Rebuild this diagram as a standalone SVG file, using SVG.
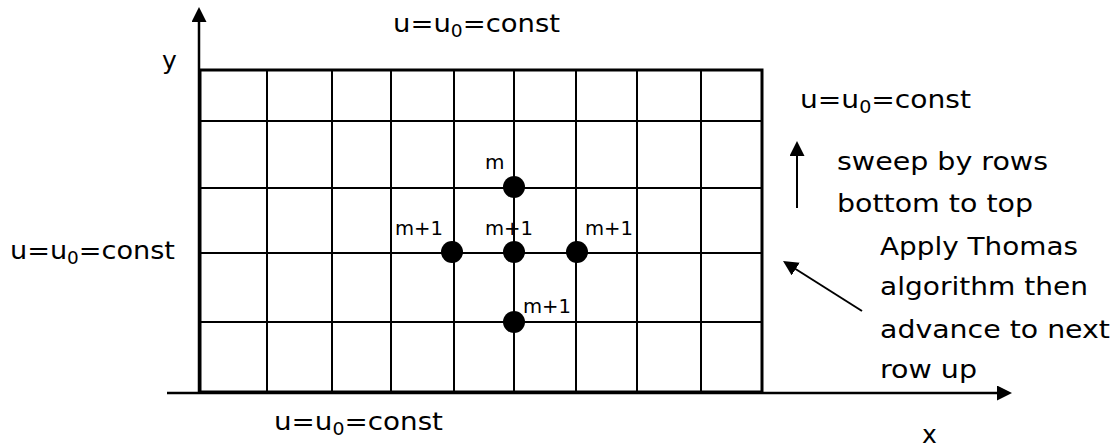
<svg xmlns="http://www.w3.org/2000/svg" width="1119" height="448" viewBox="0 0 1119 448">
<style>
 text{font-family:"DejaVu Sans",Verdana,sans-serif;fill:#000}
 .big{font-size:25px}
 .lbl{font-size:20px}
 .sub{font-size:17px}
 .grid line{stroke:#000;stroke-width:2}
 .frame{fill:none;stroke:#000;stroke-width:3}
 .ax{stroke:#000;stroke-width:2.5;fill:none}
 .thin{stroke:#000;stroke-width:2;fill:none}
 .node{fill:#000}
</style>
<defs>
 <marker id="ah" markerUnits="userSpaceOnUse" markerWidth="16" markerHeight="16" refX="2" refY="7.5" orient="auto">
  <path d="M0,0 L15,7.5 L0,15 z" fill="#000"/>
 </marker>
</defs>
<rect width="1119" height="448" fill="#fff"/>
<g id="grid" class="grid">
 <line x1="267" y1="70" x2="267" y2="392"/>
 <line x1="332" y1="70" x2="332" y2="392"/>
 <line x1="391" y1="70" x2="391" y2="392"/>
 <line x1="454" y1="70" x2="454" y2="392"/>
 <line x1="514" y1="70" x2="514" y2="392"/>
 <line x1="576" y1="70" x2="576" y2="392"/>
 <line x1="637" y1="70" x2="637" y2="392"/>
 <line x1="701" y1="70" x2="701" y2="392"/>
 <line x1="200" y1="121" x2="762" y2="121"/>
 <line x1="200" y1="188" x2="762" y2="188"/>
 <line x1="200" y1="253" x2="762" y2="253"/>
 <line x1="200" y1="322" x2="762" y2="322"/>
 <rect class="frame" x="200" y="70" width="562" height="322"/>
</g>
<g id="connectors">
 <line class="ax" x1="199" y1="393" x2="199" y2="20" marker-end="url(#ah)"/>
 <line class="ax" x1="167" y1="393" x2="999" y2="393" marker-end="url(#ah)"/>
 <line class="thin" x1="797" y1="208" x2="797" y2="154" marker-end="url(#ah)"/>
 <line class="thin" x1="862" y1="311" x2="794" y2="268" marker-end="url(#ah)"/>
</g>
<g id="node-m-top">
 <circle class="node" cx="514" cy="187" r="11"/>
 <text class="lbl" x="485" y="169">m</text>
</g>
<g id="node-left">
 <circle class="node" cx="452" cy="252" r="11"/>
 <text class="lbl" x="395" y="235" textLength="48" lengthAdjust="spacingAndGlyphs">m+1</text>
</g>
<g id="node-center">
 <circle class="node" cx="514" cy="252" r="11"/>
 <text class="lbl" x="485" y="235" textLength="48" lengthAdjust="spacingAndGlyphs">m+1</text>
</g>
<g id="node-right">
 <circle class="node" cx="577" cy="252" r="11"/>
 <text class="lbl" x="585" y="235" textLength="48" lengthAdjust="spacingAndGlyphs">m+1</text>
</g>
<g id="node-bottom">
 <circle class="node" cx="514" cy="322" r="11"/>
 <text class="lbl" x="523" y="313" textLength="48" lengthAdjust="spacingAndGlyphs">m+1</text>
</g>
<g id="labels">
 <text class="big" x="162" y="69">y</text>
 <text class="big" x="922" y="443">x</text>
 <text class="big" x="393" y="32" textLength="167" lengthAdjust="spacingAndGlyphs">u=u<tspan class="sub" dy="5">0</tspan><tspan dy="-5">=const</tspan></text>
 <text class="big" x="800" y="108" textLength="171" lengthAdjust="spacingAndGlyphs">u=u<tspan class="sub" dy="5">0</tspan><tspan dy="-5">=const</tspan></text>
 <text class="big" x="10" y="259" textLength="165" lengthAdjust="spacingAndGlyphs">u=u<tspan class="sub" dy="5">0</tspan><tspan dy="-5">=const</tspan></text>
 <text class="big" x="274" y="430" textLength="169" lengthAdjust="spacingAndGlyphs">u=u<tspan class="sub" dy="5">0</tspan><tspan dy="-5">=const</tspan></text>
 <text class="big" x="837" y="170" textLength="211" lengthAdjust="spacingAndGlyphs">sweep by rows</text>
 <text class="big" x="837" y="212" textLength="196" lengthAdjust="spacingAndGlyphs">bottom to top</text>
 <text class="big" x="880" y="255" textLength="198" lengthAdjust="spacingAndGlyphs">Apply Thomas</text>
 <text class="big" x="880" y="295" textLength="208" lengthAdjust="spacingAndGlyphs">algorithm then</text>
 <text class="big" x="880" y="338" textLength="230" lengthAdjust="spacingAndGlyphs">advance to next</text>
 <text class="big" x="880" y="378" textLength="97" lengthAdjust="spacingAndGlyphs">row up</text>
</g>
</svg>
